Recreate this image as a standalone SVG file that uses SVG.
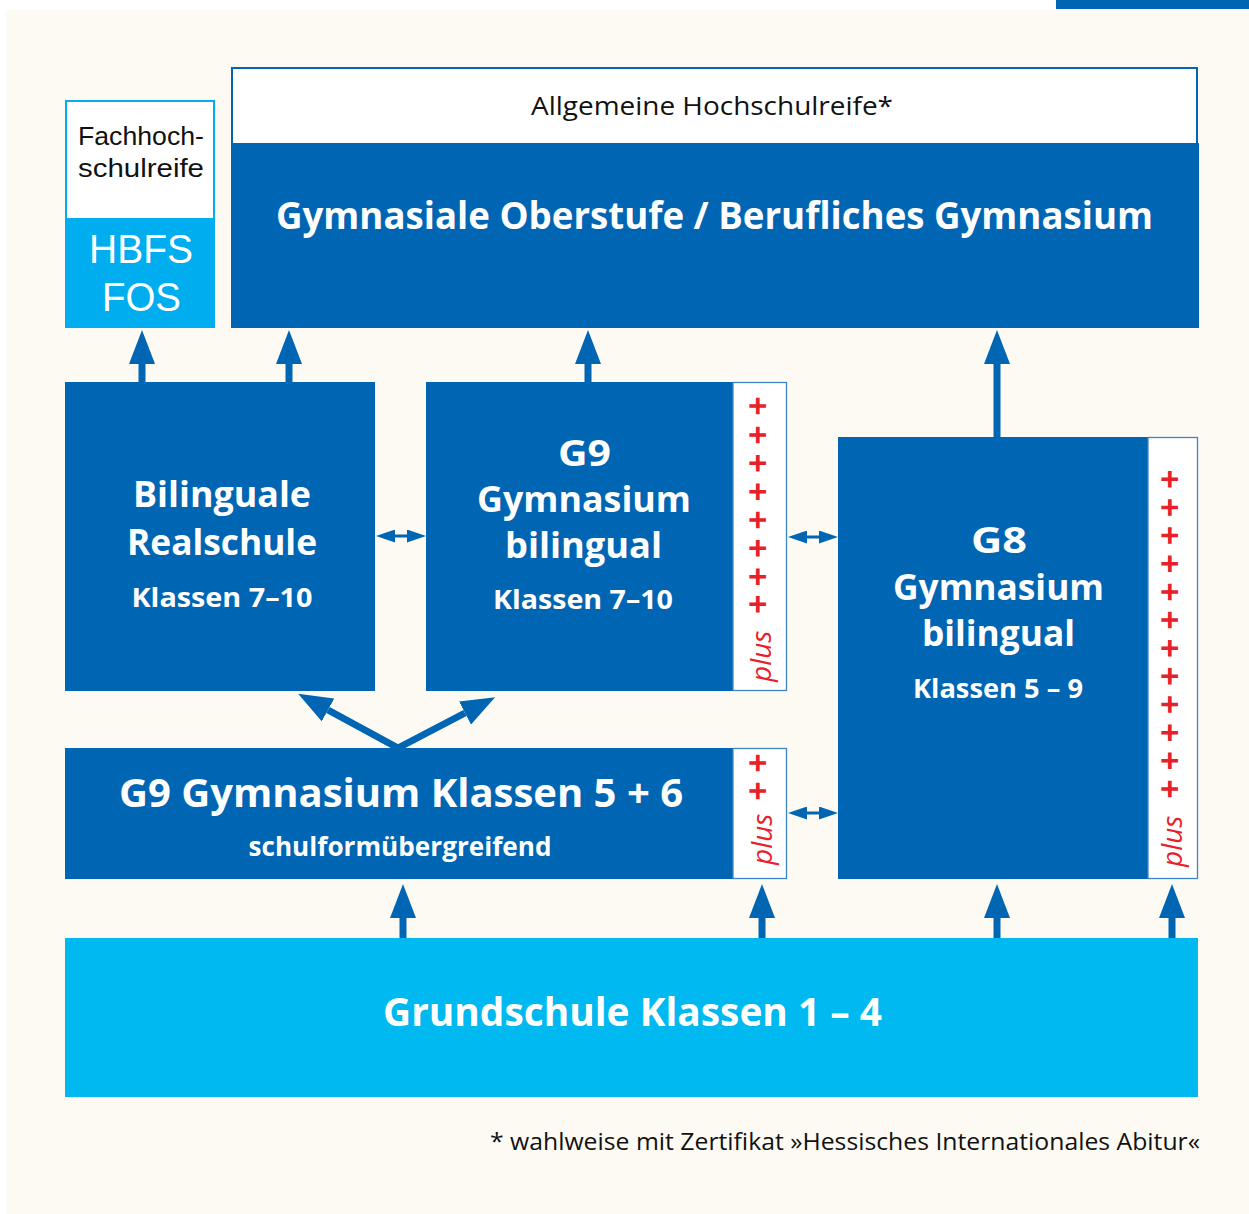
<svg xmlns="http://www.w3.org/2000/svg" width="1249" height="1214" viewBox="0 0 1249 1214">
<style>
.bg{fill:#fdfaf4}
.dk{fill:#0066b3}
.cy{fill:#00aeef}
.cy2{fill:#00b9f0}
.strip{fill:#fff;stroke:#3d86c6;stroke-width:1.3}
.wb{fill:#fff;font-family:"Open Sans","Noto Sans",sans-serif;font-weight:700;text-anchor:middle}
.wr{fill:#fff;font-family:"Liberation Sans",Arial,sans-serif;font-weight:400;text-anchor:middle}
.kr{fill:#111;font-family:"Open Sans","Noto Sans",sans-serif;font-weight:400;text-anchor:middle}
.ks{fill:#111;font-family:"Liberation Sans",Arial,sans-serif;font-weight:400;text-anchor:middle}
.ps{fill:#e8202a;font-family:"Open Sans","Noto Sans",sans-serif}
.pi{font-style:italic;font-size:28px}
.pl{font-weight:700;font-size:34px}
.arr{stroke:#0066b3;stroke-width:7;fill:none}
.dbl{stroke:#0066b3;stroke-width:3;fill:none}
</style>
<defs>
<marker id="up" markerUnits="userSpaceOnUse" markerWidth="34" markerHeight="26" refX="0" refY="13" orient="auto" viewBox="0 0 34 26"><path d="M0,0 L34,13 L0,26z" fill="#0066b3"/></marker>
<marker id="dh" markerUnits="userSpaceOnUse" markerWidth="19" markerHeight="13" refX="0" refY="6.5" orient="auto-start-reverse" viewBox="0 0 19 13"><path d="M0,0 L19,6.5 L0,13z" fill="#0066b3"/></marker>
</defs>
<rect width="1249" height="1214" fill="#fff"/>
<rect class="bg" x="6" y="10" width="1243" height="1204"/>
<rect class="dk" x="1056" y="0" width="193" height="9"/>

<g id="connectors">
<line class="arr" x1="142" y1="382" x2="142" y2="364" marker-end="url(#up)"/>
<line class="arr" x1="289" y1="382" x2="289" y2="364" marker-end="url(#up)"/>
<line class="arr" x1="588" y1="382" x2="588" y2="364" marker-end="url(#up)"/>
<line class="arr" x1="997" y1="437" x2="997" y2="364" marker-end="url(#up)"/>
<line class="arr" x1="403" y1="939" x2="403" y2="918" marker-end="url(#up)"/>
<line class="arr" x1="762" y1="939" x2="762" y2="918" marker-end="url(#up)"/>
<line class="arr" x1="997" y1="939" x2="997" y2="918" marker-end="url(#up)"/>
<line class="arr" x1="1172" y1="939" x2="1172" y2="918" marker-end="url(#up)"/>
<line class="arr" x1="398" y1="748" x2="328" y2="710" marker-end="url(#up)"/>
<line class="arr" x1="398" y1="748" x2="465" y2="713" marker-end="url(#up)"/>
<line class="dbl" x1="395" y1="536" x2="407" y2="536" marker-start="url(#dh)" marker-end="url(#dh)"/>
<line class="dbl" x1="807" y1="537" x2="819" y2="537" marker-start="url(#dh)" marker-end="url(#dh)"/>
<line class="dbl" x1="807" y1="813" x2="819" y2="813" marker-start="url(#dh)" marker-end="url(#dh)"/>
</g>

<g id="fachhochschulreife">
<rect x="66" y="101" width="148" height="118" fill="#fff" stroke="#00aeef" stroke-width="2"/>
<text class="ks" x="141" y="145" font-size="26" textLength="126" lengthAdjust="spacingAndGlyphs">Fachhoch-</text>
<text class="ks" x="141" y="177" font-size="26" textLength="126" lengthAdjust="spacingAndGlyphs">schulreife</text>
</g>
<g id="hbfs-fos">
<rect class="cy" x="65" y="219" width="150" height="109"/>
<text class="wr" x="141" y="263" font-size="41.5" textLength="104" lengthAdjust="spacingAndGlyphs">HBFS</text>
<text class="wr" x="141.5" y="311" font-size="41.5" textLength="79" lengthAdjust="spacingAndGlyphs">FOS</text>
</g>

<g id="hochschulreife">
<rect x="232" y="68" width="965" height="76" fill="#fff" stroke="#0066b3" stroke-width="2"/>
<text class="kr" x="712" y="115" font-size="26" textLength="362" lengthAdjust="spacingAndGlyphs">Allgemeine Hochschulreife*</text>
</g>
<g id="oberstufe">
<rect class="dk" x="231" y="143" width="968" height="185"/>
<text class="wb" x="714.5" y="229" font-size="38" textLength="877" lengthAdjust="spacingAndGlyphs">Gymnasiale Oberstufe / Berufliches Gymnasium</text>
</g>

<g id="realschule">
<rect class="dk" x="65" y="382" width="310" height="309"/>
<text class="wb" x="222" y="507" font-size="35" textLength="178" lengthAdjust="spacingAndGlyphs">Bilinguale</text>
<text class="wb" x="222" y="555" font-size="35" textLength="190" lengthAdjust="spacingAndGlyphs">Realschule</text>
<text class="wb" x="222" y="607" font-size="27" textLength="181" lengthAdjust="spacingAndGlyphs">Klassen 7–10</text>
</g>

<g id="g9-bilingual">
<rect class="dk" x="426" y="382" width="309" height="309"/>
<rect class="strip" x="733" y="382.5" width="53.5" height="308"/>
<text class="wb" x="584.5" y="466" font-size="35" textLength="53" lengthAdjust="spacingAndGlyphs">G9</text>
<text class="wb" x="584" y="512" font-size="35" textLength="214" lengthAdjust="spacingAndGlyphs">Gymnasium</text>
<text class="wb" x="583.5" y="558" font-size="35" textLength="157" lengthAdjust="spacingAndGlyphs">bilingual</text>
<text class="wb" x="583" y="609" font-size="27" textLength="180" lengthAdjust="spacingAndGlyphs">Klassen 7–10</text>
<text class="ps" transform="translate(771,682) rotate(-90)"><tspan class="pi">plus</tspan><tspan class="pl" dy="-1.5" x="68 95.6 124 152.3 180.6 209 237.3 266.3">++++++++</tspan></text>
</g>

<g id="g8-bilingual">
<rect class="dk" x="838" y="437" width="312" height="442"/>
<rect class="strip" x="1148" y="437.5" width="49.5" height="441"/>
<text class="wb" x="999" y="553" font-size="35" textLength="56" lengthAdjust="spacingAndGlyphs">G8</text>
<text class="wb" x="998.5" y="600" font-size="35" textLength="211" lengthAdjust="spacingAndGlyphs">Gymnasium</text>
<text class="wb" x="998.5" y="646" font-size="35" textLength="153" lengthAdjust="spacingAndGlyphs">bilingual</text>
<text class="wb" x="998" y="698" font-size="27" textLength="170" lengthAdjust="spacingAndGlyphs">Klassen 5 – 9</text>
<text class="ps" transform="translate(1182,867) rotate(-90)"><tspan class="pi">plus</tspan><tspan class="pl" dy="-0.5" x="68.3 96.45 124.6 152.75 180.9 209.05 237.2 265.35 293.5 321.65 349.8 377.95">++++++++++++</tspan></text>
</g>

<g id="g9-klassen-5-6">
<rect class="dk" x="65" y="748" width="670" height="131"/>
<rect class="strip" x="733" y="748.5" width="53.5" height="130"/>
<text class="wb" x="401" y="807" font-size="40" textLength="564" lengthAdjust="spacingAndGlyphs">G9 Gymnasium Klassen 5 + 6</text>
<text class="wb" x="400" y="856" font-size="27" textLength="303" lengthAdjust="spacingAndGlyphs">schulformübergreifend</text>
<text class="ps" transform="translate(772,865) rotate(-90)"><tspan class="pi">plus</tspan><tspan class="pl" dy="-2" x="64.3 92.3">++</tspan></text>
</g>

<g id="grundschule">
<rect class="cy2" x="65" y="938" width="1133" height="159"/>
<text class="wb" x="632.5" y="1026" font-size="40" textLength="499" lengthAdjust="spacingAndGlyphs">Grundschule Klassen 1 – 4</text>
</g>

<text x="1200" y="1150" font-family="'Open Sans','Noto Sans',sans-serif" font-size="24" fill="#111" text-anchor="end" textLength="710" lengthAdjust="spacingAndGlyphs">* wahlweise mit Zertifikat »Hessisches Internationales Abitur«</text>
</svg>
